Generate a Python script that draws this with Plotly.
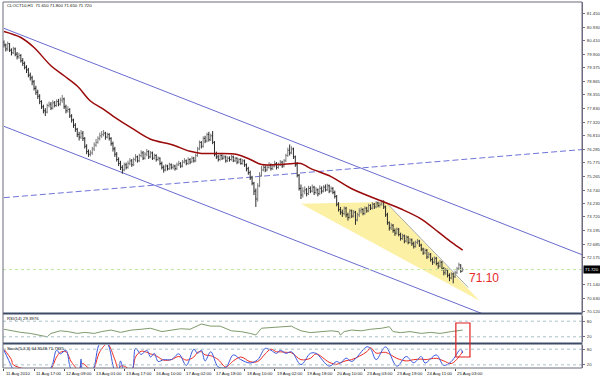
import plotly.graph_objects as go

# ---------------- data ----------------
title_text = "CLOCT10,H1  71.650 71.800 71.650 71.720"
rsi_label = "RSI(14) 29.3976"
stoch_label = "Stoch(5,3,3) 64.8548 71.7935"

first_open = 80.35
close = [
    80.25, 80.10, 80.30, 80.05, 79.95, 80.10, 79.90, 79.80, 79.85, 79.65,
    79.55, 79.40, 79.30, 79.10, 79.00, 78.85, 78.60, 78.45, 78.30, 78.10,
    77.90, 77.75, 77.70, 77.95, 78.00, 77.85, 78.05, 77.95, 78.10, 78.00,
    78.15, 78.20, 77.90, 77.75, 77.80, 77.55, 77.40, 77.20, 77.05, 76.85,
    76.75, 76.90, 76.70, 76.40, 76.20, 76.10, 76.15, 76.30, 76.45, 76.55,
    76.70, 76.80, 76.85, 76.90, 76.75, 76.85, 76.70, 76.50, 76.30, 76.10,
    75.90, 75.75, 75.60, 75.50, 75.70, 75.60, 75.75, 75.85, 75.70, 75.90,
    76.00, 75.85, 76.05, 76.15, 75.95, 76.10, 76.20, 76.00, 76.15, 75.95,
    76.05, 75.90, 75.95, 75.75, 75.60, 75.50, 75.65, 75.55, 75.70, 75.60,
    75.65, 75.55, 75.70, 75.75, 75.65, 75.80, 75.85, 75.75, 75.90, 75.80,
    75.95, 75.85, 76.05, 76.30, 76.55, 76.40, 76.70, 76.60, 76.85, 76.65,
    76.80, 76.55, 76.10, 76.00, 75.90, 76.05, 75.95, 76.00, 75.85, 75.95,
    75.90, 76.00, 75.85, 75.95, 75.80, 75.90, 75.75, 75.85, 75.70, 75.55,
    75.40, 75.20, 75.00, 74.70, 74.40, 74.90, 75.30, 75.50, 75.60, 75.50,
    75.60, 75.70, 75.55, 75.65, 75.75, 75.60, 75.70, 75.80, 75.65, 75.85,
    76.05, 76.25, 76.15, 76.30, 76.00, 75.70, 75.30, 74.80, 74.55, 74.70,
    74.75, 74.60, 74.80, 74.70, 74.85, 74.65, 74.75, 74.60, 74.80, 74.70,
    74.85, 74.75, 74.90, 74.70, 74.80, 74.65, 74.50, 74.20, 74.00, 73.90,
    73.85, 74.05, 73.80, 73.70, 73.95, 73.75, 73.90, 73.60, 73.80, 73.95,
    74.00, 73.85, 74.05, 73.95, 74.15, 74.05, 74.20, 74.10, 74.25, 74.15,
    74.20, 74.30, 74.10, 73.80, 73.50, 73.30, 73.40, 73.20, 73.10, 73.25,
    73.05, 72.90, 73.00, 72.80, 72.95, 72.75, 72.85, 72.70, 72.60, 72.75,
    72.80, 72.65, 72.50, 72.35, 72.45, 72.20, 72.30, 72.10, 72.00, 72.15,
    71.95, 71.85, 72.00, 71.75, 71.60, 71.70, 71.50, 71.40, 71.55, 71.45,
    71.60, 71.75, 71.90, 71.65, 71.72,
]
high = [
    80.42, 80.30, 80.38, 80.32, 80.12, 80.18, 80.15, 79.98, 79.95, 79.90,
    79.75, 79.62, 79.48, 79.38, 79.20, 79.08, 78.92, 78.70, 78.55, 78.38,
    78.15, 77.98, 77.85, 78.02, 78.10, 78.08, 78.15, 78.12, 78.18, 78.20,
    78.25, 78.35, 78.25, 77.98, 77.92, 77.85, 77.62, 77.45, 77.28, 77.10,
    76.95, 77.02, 76.98, 76.75, 76.48, 76.28, 76.25, 76.38, 76.55, 76.68,
    76.78, 76.92, 76.98, 77.02, 76.95, 76.92, 76.90, 76.75, 76.58, 76.38,
    76.18, 75.98, 75.85, 75.68, 75.78, 75.78, 75.85, 75.95, 75.92, 75.98,
    76.10, 76.05, 76.12, 76.25, 76.22, 76.18, 76.30, 76.25, 76.22, 76.20,
    76.12, 76.10, 76.02, 75.98, 75.82, 75.68, 75.72, 75.70, 75.78, 75.75,
    75.72, 75.70, 75.78, 75.85, 75.80, 75.88, 75.95, 75.90, 75.98, 75.95,
    76.02, 76.00, 76.12, 76.38, 76.62, 76.60, 76.78, 76.80, 76.92, 76.95,
    76.88, 76.98, 76.60, 76.20, 76.08, 76.12, 76.10, 76.08, 76.05, 76.02,
    76.02, 76.08, 76.05, 76.00, 75.98, 75.95, 75.95, 75.92, 75.90, 75.75,
    75.62, 75.48, 75.28, 75.05, 74.80, 75.00, 75.42, 75.65, 75.72, 75.68,
    75.70, 75.80, 75.75, 75.72, 75.85, 75.80, 75.78, 75.88, 75.85, 75.92,
    76.12, 76.35, 76.47, 76.40, 76.35, 76.05, 75.80, 75.35, 74.95, 74.85,
    74.88, 74.82, 74.90, 74.88, 74.95, 74.90, 74.85, 74.80, 74.92, 74.88,
    74.92, 74.95, 74.98, 74.95, 74.88, 74.85, 74.72, 74.55, 74.28, 74.10,
    74.00, 74.12, 74.10, 73.88, 74.02, 74.00, 73.98, 73.95, 73.88, 74.05,
    74.08, 74.05, 74.12, 74.10, 74.22, 74.20, 74.28, 74.25, 74.32, 74.30,
    74.28, 74.37, 74.35, 74.15, 73.88, 73.55, 73.48, 73.45, 73.28, 73.32,
    73.30, 73.12, 73.08, 73.05, 73.02, 73.00, 72.92, 72.90, 72.78, 72.82,
    72.88, 72.85, 72.70, 72.55, 72.52, 72.50, 72.38, 72.35, 72.18, 72.22,
    72.20, 72.02, 72.08, 72.05, 71.82, 71.78, 71.75, 71.58, 71.62, 71.60,
    71.68, 71.82, 71.98, 71.92, 71.80,
]
low = [
    80.15, 80.00, 80.02, 79.98, 79.85, 79.90, 79.82, 79.70, 79.72, 79.58,
    79.45, 79.32, 79.18, 79.02, 78.90, 78.72, 78.52, 78.35, 78.20, 78.00,
    77.82, 77.65, 77.55, 77.65, 77.88, 77.78, 77.80, 77.88, 77.90, 77.92,
    77.95, 78.05, 77.82, 77.65, 77.68, 77.48, 77.30, 77.10, 76.95, 76.75,
    76.62, 76.68, 76.60, 76.32, 76.10, 76.00, 76.02, 76.08, 76.22, 76.38,
    76.50, 76.62, 76.72, 76.78, 76.65, 76.70, 76.62, 76.42, 76.20, 76.00,
    75.82, 75.65, 75.50, 75.36, 75.45, 75.52, 75.55, 75.68, 75.62, 75.65,
    75.82, 75.78, 75.80, 75.98, 75.88, 75.90, 76.02, 75.92, 75.95, 75.88,
    75.90, 75.82, 75.85, 75.68, 75.52, 75.40, 75.45, 75.48, 75.50, 75.52,
    75.52, 75.48, 75.50, 75.65, 75.58, 75.60, 75.75, 75.68, 75.70, 75.72,
    75.78, 75.78, 75.80, 76.00, 76.25, 76.32, 76.35, 76.52, 76.55, 76.58,
    76.60, 76.48, 76.02, 75.92, 75.82, 75.85, 75.88, 75.90, 75.78, 75.80,
    75.82, 75.85, 75.80, 75.80, 75.72, 75.75, 75.70, 75.70, 75.62, 75.45,
    75.32, 75.12, 74.92, 74.55, 74.10, 74.30, 74.85, 75.25, 75.45, 75.42,
    75.45, 75.55, 75.48, 75.50, 75.60, 75.52, 75.55, 75.65, 75.58, 75.60,
    75.80, 76.00, 76.05, 76.10, 75.92, 75.62, 75.22, 74.72, 74.40, 74.45,
    74.58, 74.50, 74.55, 74.62, 74.65, 74.55, 74.58, 74.50, 74.55, 74.60,
    74.65, 74.68, 74.70, 74.62, 74.65, 74.58, 74.42, 74.12, 73.92, 73.80,
    73.72, 73.78, 73.70, 73.58, 73.65, 73.68, 73.70, 73.42, 73.55, 73.72,
    73.85, 73.78, 73.80, 73.88, 73.90, 73.98, 74.00, 74.02, 74.05, 74.08,
    74.08, 74.15, 74.02, 73.72, 73.42, 73.20, 73.22, 73.12, 73.00, 73.05,
    72.98, 72.82, 72.85, 72.72, 72.75, 72.68, 72.70, 72.62, 72.52, 72.55,
    72.68, 72.58, 72.42, 72.28, 72.30, 72.12, 72.15, 72.02, 71.90, 71.95,
    71.88, 71.75, 71.80, 71.68, 71.50, 71.52, 71.42, 71.28, 71.35, 71.20,
    71.40, 71.55, 71.70, 71.60, 71.65,
]
open_ = [first_open] + close[:-1]
bar_idx = list(range(len(close)))

# moving average
ma_idx = [0, 9, 16, 25, 32, 39, 46, 52, 58, 68, 78, 89, 99, 105, 114, 124,
          131, 137, 146, 154, 158, 163, 174, 185, 211, 222, 231, 238, 244]
ma_val = [80.76, 80.53, 80.15, 79.46, 79.08, 78.69, 78.12, 77.85, 77.55, 77.09,
          76.67, 76.47, 76.21, 76.13, 76.13, 76.09, 75.90, 75.71, 75.71, 75.75,
          75.75, 75.56, 75.25, 74.79, 74.03, 73.64, 73.15, 72.76, 72.46]

# drawn objects (two anchor points each: bar index, price)
chan_upper_idx = [0, 308]
chan_upper_val = [80.88, 72.27]
chan_lower_idx = [0, 308]
chan_lower_val = [77.16, 68.55]
dash_idx = [0, 308]
dash_val = [74.45, 76.28]
tri_idx = [158, 203, 253, 158]
tri_val = [74.22, 74.29, 70.54, 74.22]
wedge_idx = [203, 247]
wedge_val = [74.29, 71.04]
last_price = 71.72
note_text = "71.10"
note_idx = 246.3
note_val = 71.40

# RSI(14)
rsi_idx = [0, 4, 9, 14, 20, 23, 25, 30, 34, 39, 43, 48, 52, 57, 62, 68, 73, 78,
           84, 87, 94, 99, 105, 110, 115, 121, 126, 131, 134, 137, 142, 147,
           153, 155, 158, 163, 169, 174, 178, 179, 181, 185, 190, 195, 201,
           205, 207, 211, 216, 222, 227, 232, 238, 244]
rsi_val = [49, 43, 37, 33, 23, 20, 33, 43, 40, 33, 37, 33, 40, 46, 37, 46, 49,
           53, 40, 43, 51, 49, 69, 61, 61, 43, 40, 33, 27, 53, 56, 59, 61, 53,
           43, 36, 40, 43, 40, 27, 40, 46, 43, 49, 53, 59, 40, 36, 40, 33, 37,
           33, 40, 46]
rsi_levels = [20, 80]

# Stochastic(5,3,3)
st_idx = [0, 4, 5, 24, 28, 30, 33, 36, 40, 41, 42, 47, 51, 55, 59, 61, 62, 64,
          68, 70, 73, 76, 78, 80, 82, 85, 89, 93, 97, 101, 103, 105, 107, 110,
          114, 118, 122, 126, 131, 135, 139, 142, 145, 147, 150, 153, 158, 163,
          166, 173, 177, 179, 182, 185, 193, 195, 198, 203, 209, 214, 218, 222,
          224, 230, 234, 238, 243, 244]
st_k = [76, 15, 0, 0, 76, 62, 76, 0, 0, 42, 0, 0, 100, 100, 0, 0, 35, 0, 0, 83,
        60, 76, 50, 64, 33, 40, 40, 62, 18, 80, 64, 76, 35, 70, 12, 10, 58, 40,
        27, 40, 83, 76, 64, 76, 64, 70, 21, 64, 64, 15, 33, 27, 46, 33, 89, 83,
        40, 89, 15, 52, 28, 52, 27, 58, 18, 33, 80, 65]
st_d = [80, 40, 20, 0, 50, 68, 70, 30, 0, 20, 25, 0, 70, 100, 40, 0, 15, 15, 0,
        50, 72, 68, 62, 58, 50, 38, 40, 52, 38, 50, 68, 70, 58, 55, 40, 12, 35,
        50, 32, 33, 62, 80, 70, 70, 68, 66, 40, 45, 62, 30, 22, 28, 36, 40, 70,
        86, 65, 68, 45, 35, 40, 42, 40, 45, 35, 25, 60, 72]
st_levels = [20, 80]

# axis labels (the 71.665 level is hidden under the current-price box)
price_ticks = [81.450, 80.930, 80.410, 79.900, 79.375, 78.865, 78.355, 77.830,
               77.320, 76.810, 76.285, 75.775, 75.265, 74.740, 74.230, 73.720,
               73.195, 72.685, 72.175, 71.140, 70.630, 70.120]
date_idx = [0, 16, 32, 48, 64, 80, 96, 112, 128, 144, 160, 176, 192, 208, 224, 240]
date_labels = ["11 Aug 2010", "11 Aug 17:00", "12 Aug 09:00", "13 Aug 01:00",
               "13 Aug 17:00", "16 Aug 10:00", "17 Aug 02:00", "17 Aug 18:00",
               "18 Aug 10:00", "19 Aug 02:00", "19 Aug 18:00", "20 Aug 10:00",
               "23 Aug 03:00", "23 Aug 19:00", "24 Aug 11:00", "25 Aug 03:00"]

# ---------------- figure ----------------
W, H = 600, 376
ML, MR, MT, MB = 3, 18, 2, 8
PH = H - MT - MB


def py(px):  # pixel row -> paper y
    return (H - MB - px) / PH


FONT = "Liberation Sans, Arial, sans-serif"
SMALL = 4.3
fig = go.Figure()


def bar_segments(sel):
    xs, ys = [], []
    for i in bar_idx:
        if not sel(i):
            continue
        xs += [i, i, None, i - 0.5, i, None, i, i + 0.5, None]
        ys += [low[i], high[i], None, open_[i], open_[i], None, close[i], close[i], None]
    return xs, ys


# triangle
fig.add_trace(go.Scatter(x=tri_idx, y=tri_val, mode="lines", fill="toself",
                         fillcolor="#fcf0a4", line=dict(width=0, color="#fcf0a4"),
                         hoverinfo="skip", xaxis="x", yaxis="y"))
# channel
fig.add_trace(go.Scatter(x=chan_upper_idx, y=chan_upper_val, mode="lines",
                         line=dict(color="#6a6ad0", width=1), xaxis="x", yaxis="y"))
fig.add_trace(go.Scatter(x=chan_lower_idx, y=chan_lower_val, mode="lines",
                         line=dict(color="#6a6ad0", width=1), xaxis="x", yaxis="y"))
fig.add_trace(go.Scatter(x=dash_idx, y=dash_val, mode="lines",
                         line=dict(color="#6f74d8", width=1, dash="6px,3px"),
                         xaxis="x", yaxis="y"))
fig.add_trace(go.Scatter(x=wedge_idx, y=wedge_val, mode="lines",
                         line=dict(color="#a8aaa0", width=1), xaxis="x", yaxis="y"))
# bars
ux, uy = bar_segments(lambda i: close[i] >= open_[i])
dx, dy = bar_segments(lambda i: close[i] < open_[i])
fig.add_trace(go.Scatter(x=ux, y=uy, mode="lines", line=dict(color="#7a7a7a", width=1),
                         connectgaps=False, xaxis="x", yaxis="y"))
fig.add_trace(go.Scatter(x=dx, y=dy, mode="lines", line=dict(color="#2a2a2a", width=1),
                         connectgaps=False, xaxis="x", yaxis="y"))
# MA
fig.add_trace(go.Scatter(x=ma_idx, y=ma_val, mode="lines", line_shape="spline",
                         line=dict(color="#9a0a0a", width=1.5), xaxis="x", yaxis="y"))
# RSI
fig.add_trace(go.Scatter(x=rsi_idx, y=rsi_val, mode="lines",
                         line=dict(color="#7f9a6c", width=1), xaxis="x", yaxis="y2"))
# Stoch
fig.add_trace(go.Scatter(x=st_idx, y=st_d, mode="lines", line_shape="spline",
                         line=dict(color="#f02a20", width=1), xaxis="x", yaxis="y3"))
fig.add_trace(go.Scatter(x=st_idx, y=st_k, mode="lines", line_shape="spline",
                         line=dict(color="#3a5ae0", width=1), xaxis="x", yaxis="y3"))

axis_line = "#7a6a8f"
tickfont = dict(family=FONT, size=SMALL, color="#333333")
common_y = dict(side="right", anchor="x", showgrid=False, zeroline=False,
                tickfont=tickfont, ticks="outside", ticklen=2, tickcolor=axis_line,
                showline=True, linecolor=axis_line, linewidth=1, automargin=False,
                ticklabelstandoff=1)
fig.update_layout(
    template="none",
    font=dict(family=FONT, size=SMALL, color="#222"),
    width=W, height=H, margin=dict(l=ML, r=MR, t=MT, b=MB, autoexpand=False),
    paper_bgcolor="white", plot_bgcolor="white", showlegend=False,
    hovermode=False,
    xaxis=dict(domain=[0, 1], range=[-0.5, 307.5], anchor="y3", automargin=False,
               showgrid=False, zeroline=False, showticklabels=False,
               tickvals=date_idx, ticks="outside", ticklen=2, tickcolor="#555",
               showline=False),
    yaxis=dict(domain=[py(313), 1], range=[70.072, 81.879],
               tickvals=price_ticks, ticktext=[f"{v:.3f}" for v in price_ticks],
               **common_y),
    yaxis2=dict(domain=[py(342), py(316)], range=[0, 100],
                tickvals=rsi_levels, ticktext=[str(v) for v in rsi_levels], **common_y),
    yaxis3=dict(domain=[0, py(345)], range=[8, 96],
                tickvals=st_levels, ticktext=[str(v) for v in st_levels], **common_y),
)

shapes = []
for v in rsi_levels:
    shapes.append(dict(type="line", xref="paper", yref="y2", x0=0, x1=1, y0=v, y1=v,
                       line=dict(color="#a9c0c8", width=1, dash="dot")))
for v in st_levels:
    shapes.append(dict(type="line", xref="paper", yref="y3", x0=0, x1=1, y0=v, y1=v,
                       line=dict(color="#a9c0c8", width=1, dash="dot")))
shapes.append(dict(type="line", xref="paper", yref="y", x0=0, x1=1,
                   y0=last_price, y1=last_price,
                   line=dict(color="#bfe8a0", width=1, dash="dot")))
for ypx in (313.5, 343.5):
    shapes.append(dict(type="line", xref="paper", yref="paper", x0=0, x1=1,
                       y0=py(ypx), y1=py(ypx), line=dict(color="#3c4a66", width=2)))
shapes.append(dict(type="rect", xref="paper", yref="paper", x0=0, x1=1, y0=0, y1=1,
                   line=dict(color="#6a6a7a", width=1)))
shapes.append(dict(type="rect", xref="x", yref="paper", x0=240.4, x1=247.9,
                   y0=py(357), y1=py(323), line=dict(color="#e02020", width=1.2)))
fig.update_layout(shapes=shapes)

ann = []
small = dict(family=FONT, size=SMALL, color="#111")
ann.append(dict(text=title_text, xref="paper", yref="paper", x=0.003, y=py(5),
                xanchor="left", yanchor="middle", showarrow=False, font=small))
ann.append(dict(text=rsi_label, xref="paper", yref="paper", x=0.003, y=py(318),
                xanchor="left", yanchor="middle", showarrow=False, font=small))
ann.append(dict(text=stoch_label, xref="paper", yref="paper", x=0.003, y=py(348),
                xanchor="left", yanchor="middle", showarrow=False, font=small))
for i, t in zip(date_idx, date_labels):
    ann.append(dict(text=t, xref="x", yref="paper", x=i, y=0, xanchor="left",
                    yanchor="top", yshift=-1, xshift=0, showarrow=False, font=small))
ann.append(dict(text=note_text, xref="x", yref="y", x=note_idx, y=note_val,
                xanchor="left", yanchor="middle", showarrow=False,
                font=dict(family=FONT, size=12, color="#e8282b")))
ann.append(dict(text=f"{last_price:.3f}", xref="paper", yref="y", x=1, y=last_price,
                xanchor="left", yanchor="middle", xshift=1, showarrow=False,
                bgcolor="#000000", borderpad=1,
                font=dict(family=FONT, size=SMALL, color="#ffffff")))
fig.update_layout(annotations=ann)

fig.write_html(
    "out.html",
    config={"displayModeBar": False, "staticPlot": True},
    post_script="document.body.style.margin='0';document.body.style.padding='0';"
                "document.body.style.overflow='hidden';",
)
